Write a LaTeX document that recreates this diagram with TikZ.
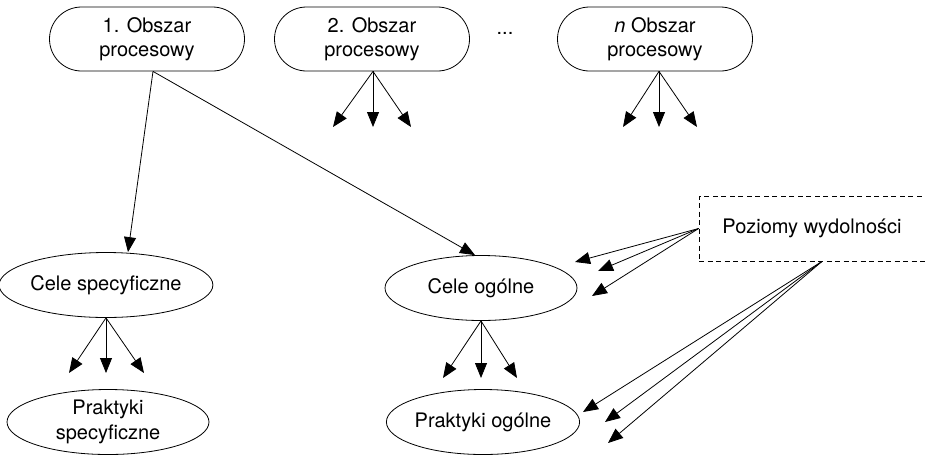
\documentclass[tikz,border=0pt]{standalone}
\usepackage{fontspec}
\setmainfont{TeX Gyre Heros}
\usetikzlibrary{shapes.geometric,arrows.meta}
\begin{document}
\begin{tikzpicture}[x=1pt,y=-1pt,
  line width=0.8pt,
  every node/.style={font=\fontsize{20}{24.5}\selectfont, align=center, inner sep=0pt},
  area/.style={draw, rounded corners=32pt, minimum width=195pt, minimum height=64pt},
  goal/.style={draw, ellipse, minimum width=193pt, minimum height=65pt},
  levelbox/.style={draw, dashed, dash pattern=on 5pt off 3.5pt, minimum width=236pt, minimum height=65pt},
  arr/.style={-{Triangle[length=15pt,width=12pt]}}
]
\useasboundingbox (0,0) rectangle (925,461);
\clip (0,0) rectangle (925,461);
\node[area] (a1) at (147,39) {1. Obszar\\procesowy};
\node[area] (a2) at (372,39) {2. Obszar\\procesowy};
\node (dots) at (505,33) {...};
\node[area] (an) at (655,39) {\textit{n} Obszar\\procesowy};

\node[goal] (cs) at (106,285) {Cele specyficzne};
\node[goal, minimum width=202pt] (ps) at (108,422) {Praktyki\\specyficzne};
\node[goal, minimum width=192pt] (co) at (481,288) {Cele ogólne};
\node[goal, minimum width=191pt] (po) at (483,422) {Praktyki ogólne};
\node[levelbox] (poz) at (817,228.5) {};
\node (pozt) at (812,228.5) {Poziomy wydolności};

% fan tips
\coordinate (t2a) at (333,127); \coordinate (t2b) at (373,127); \coordinate (t2c) at (411,127);
\coordinate (tna) at (623,127); \coordinate (tnb) at (659,127); \coordinate (tnc) at (697,127);
\coordinate (tsa) at (69,373); \coordinate (tsb) at (106,373); \coordinate (tsc) at (144,373);
\coordinate (toa) at (443,378); \coordinate (tob) at (481,378); \coordinate (toc) at (517,378);
\coordinate (tla) at (575,262); \coordinate (tlb) at (598,271); \coordinate (tlc) at (592,296);
\coordinate (tma) at (583,412); \coordinate (tmb) at (605,422); \coordinate (tmc) at (608,443);

\foreach \t in {t2a,t2b,t2c} \draw[arr] ([xshift=1pt]a2.south) -- (\t);
\foreach \t in {tna,tnb,tnc} \draw[arr] ([xshift=4pt]an.south) -- (\t);
\foreach \t in {tsa,tsb,tsc} \draw[arr] (cs.south) -- (\t);
\foreach \t in {toa,tob,toc} \draw[arr] (co.south) -- (\t);
\foreach \t in {tla,tlb,tlc} \draw[arr] (poz.west) -- (\t);
\foreach \t in {tma,tmb,tmc} \draw[arr] ([xshift=5pt]poz.south) -- (\t);

\draw[arr] ([xshift=6pt]a1.south) -- ([xshift=22pt]cs.north);
\draw[arr] ([xshift=6pt]a1.south) -- ([xshift=-6pt]co.north);
\end{tikzpicture}
\end{document}
